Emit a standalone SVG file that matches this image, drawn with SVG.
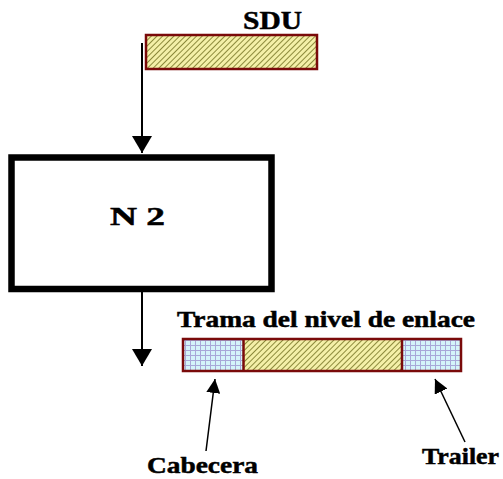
<svg xmlns="http://www.w3.org/2000/svg" width="503" height="479" viewBox="0 0 503 479">
  <style>
    .t { font-family: "Liberation Serif", Tinos, "Times New Roman", Times, serif; font-weight: bold; fill: #000; stroke: #000; stroke-width: 0.5; }
    .pdu { stroke: #7a0a0a; stroke-width: 2.5; }
    .ln { stroke: #000; stroke-width: 2; fill: none; }
    .ln2 { stroke: #000; stroke-width: 1.5; fill: none; }
  </style>
  <defs>
    <pattern id="hatch" patternUnits="userSpaceOnUse" width="4" height="4" patternTransform="rotate(45)">
      <rect width="4" height="4" fill="#f4f0a8"/>
      <line x1="0" y1="0" x2="0" y2="4" stroke="#8c8a3c" stroke-width="2"/>
    </pattern>
    <pattern id="grid" patternUnits="userSpaceOnUse" width="5" height="5">
      <rect width="5" height="5" fill="#d4f4fa"/>
      <path d="M0 0.5 H5 M0.5 0 V5" stroke="#a8a8d8" stroke-width="1"/>
    </pattern>
    <marker id="bighead" viewBox="0 0 17 20" refX="17" refY="10" markerWidth="17" markerHeight="20" markerUnits="userSpaceOnUse" orient="auto">
      <path d="M0 0 L17 10 L0 20 Z" fill="#000"/>
    </marker>
    <marker id="smallhead" viewBox="0 0 14 14" refX="14" refY="7" markerWidth="14" markerHeight="14" markerUnits="userSpaceOnUse" orient="auto">
      <path d="M0 0 L14 7 L0 14 Z" fill="#000"/>
    </marker>
  </defs>

  <g id="sdu">
    <rect class="pdu" x="146" y="35" width="171" height="34" fill="url(#hatch)"/>
    <text class="t" x="243" y="29" font-size="26" textLength="59" lengthAdjust="spacingAndGlyphs">SDU</text>
  </g>

  <g id="n2">
    <rect x="11.5" y="157.5" width="260" height="131.5" fill="#fff" stroke="#000" stroke-width="6.5"/>
    <text class="t" x="110" y="225" font-size="26" textLength="55" lengthAdjust="spacingAndGlyphs">N 2</text>
  </g>

  <g id="trama">
    <text class="t" x="177" y="327" font-size="23" textLength="298" lengthAdjust="spacingAndGlyphs">Trama del nivel de enlace</text>
    <rect x="183" y="339" width="60" height="32" fill="url(#grid)"/>
    <rect x="243" y="339" width="159" height="32" fill="url(#hatch)"/>
    <rect x="402" y="339" width="59" height="32" fill="url(#grid)"/>
    <rect class="pdu" x="183" y="339" width="278" height="32" fill="none"/>
    <line class="pdu" x1="243.5" y1="339" x2="243.5" y2="371"/>
    <line class="pdu" x1="402" y1="339" x2="402" y2="371"/>
  </g>

  <g id="cabecera">
    <text class="t" x="147" y="473" font-size="24" textLength="111" lengthAdjust="spacingAndGlyphs">Cabecera</text>
  </g>

  <g id="trailer">
    <text class="t" x="422" y="464" font-size="24" textLength="77" lengthAdjust="spacingAndGlyphs">Trailer</text>
  </g>

  <g id="connectors">
    <line class="ln" x1="142" y1="43" x2="142" y2="153" marker-end="url(#bighead)"/>
    <line class="ln" x1="142" y1="292" x2="142" y2="366" marker-end="url(#bighead)"/>
    <line class="ln2" x1="206" y1="451" x2="215" y2="379" marker-end="url(#smallhead)"/>
    <line class="ln2" x1="465" y1="442" x2="435" y2="379" marker-end="url(#smallhead)"/>
  </g>
</svg>
